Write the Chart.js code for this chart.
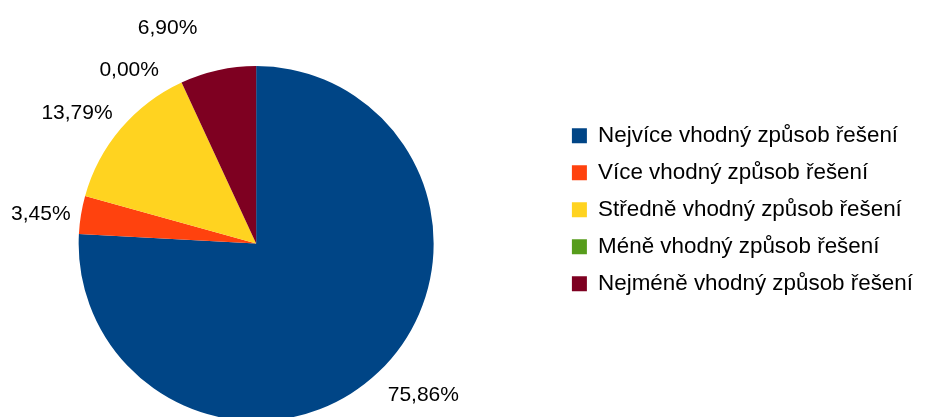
<!DOCTYPE html>
<html lang="cs">
<head>
<meta charset="utf-8">
<title>Způsob řešení</title>
<script src="https://cdn.jsdelivr.net/npm/chart.js@4.4.1/dist/chart.umd.min.js"></script>
<style>
  html, body {
    margin: 0;
    padding: 0;
    background: #ffffff;
    overflow: hidden;
  }
  body {
    width: 932px;
    height: 417px;
    position: relative;
  }
  #wrap {
    position: absolute;
    left: -45px;
    top: 0;
    width: 968px;
    height: 417px;
  }
</style>
</head>
<body>
<div id="wrap">
  <canvas id="pieChart"></canvas>
</div>
<script>
const categories = [
  "Nejvíce vhodný způsob řešení",
  "Více vhodný způsob řešení",
  "Středně vhodný způsob řešení",
  "Méně vhodný způsob řešení",
  "Nejméně vhodný způsob řešení",
];
const shares = [75.86, 3.45, 13.79, 0.0, 6.9];
const sliceColors = ["#004586", "#ff420e", "#ffd320", "#579d1c", "#7e0021"];

// small shifts of the percentage labels away from the plain radial spot
const labelNudges = [
  [11, 6],
  [3, 3],
  [-6, -1],
  [-34, 9],
  [-41, -19],
];

const fontFamily = '"Liberation Sans", Arial, sans-serif';

const percentLabels = {
  id: "percentLabels",
  afterDatasetsDraw(chart) {
    const ctx = chart.ctx;
    const meta = chart.getDatasetMeta(0);
    ctx.save();
    ctx.font = "21px " + fontFamily;
    ctx.fillStyle = "#000000";
    ctx.textAlign = "center";
    ctx.textBaseline = "middle";
    meta.data.forEach((arc, i) => {
      const p = arc.getProps(["x", "y", "startAngle", "endAngle", "outerRadius"], true);
      const mid = (p.startAngle + p.endAngle) / 2;
      const dx = Math.cos(mid);
      const dy = Math.sin(mid);
      const text = shares[i].toFixed(2).replace(".", ",") + "%";
      const w = ctx.measureText(text).width;
      const r = p.outerRadius + 14;
      const x = p.x + dx * r + dx * w / 2 + labelNudges[i][0];
      const y = p.y + dy * r + dy * 9 + labelNudges[i][1];
      ctx.fillText(text, x, y);
    });
    ctx.restore();
  },
};

const ctx = document.getElementById("pieChart").getContext("2d");

new Chart(ctx, {
  type: "pie",
  data: {
    labels: categories,
    datasets: [
      {
        data: shares,
        backgroundColor: sliceColors,
        borderWidth: 0,
        radius: 177.5,
        clip: false,
      },
    ],
  },
  options: {
    responsive: true,
    maintainAspectRatio: false,
    animation: false,
    layout: {
      padding: { top: 110, bottom: 40, left: 0, right: 0 },
    },
    plugins: {
      legend: {
        position: "right",
        align: "start",
        labels: {
          boxWidth: 15,
          boxHeight: 15,
          padding: 14.6,
          color: "#000000",
          font: { family: fontFamily, size: 22.4 },
        },
      },
      tooltip: { enabled: false },
    },
  },
  plugins: [percentLabels],
});
</script>
</body>
</html>
